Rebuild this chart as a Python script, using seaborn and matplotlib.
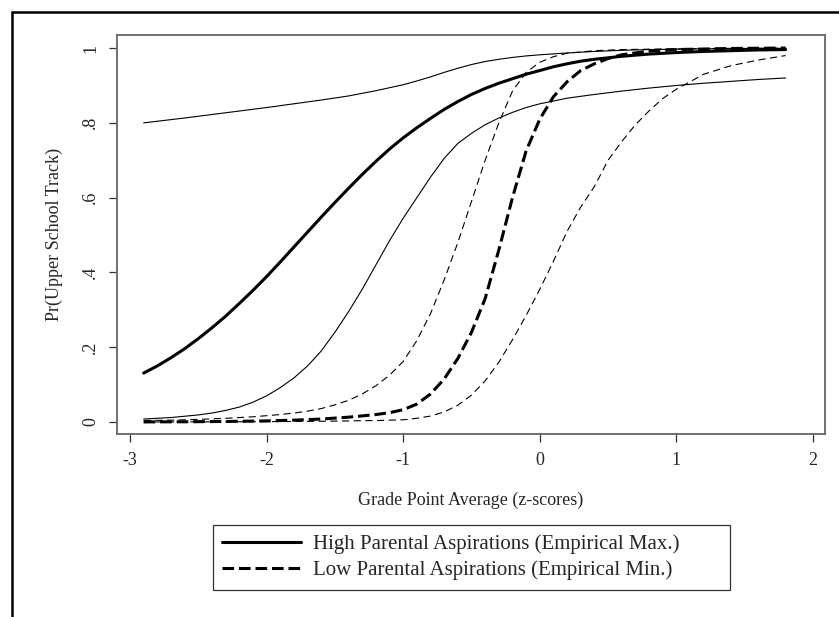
import seaborn as sns
import matplotlib.pyplot as plt
from matplotlib.lines import Line2D

### values (x = GPA z-score, y = probability)
# High parental aspirations: point estimate
high_x = [-2.9, -2.8, -2.7, -2.6, -2.5, -2.4, -2.3, -2.2, -2.1, -2.0, -1.9, -1.8, -1.7, -1.6, -1.5, -1.4, -1.3, -1.2, -1.1, -1.0,
          -0.9, -0.8, -0.7, -0.6, -0.5, -0.4, -0.3, -0.2, -0.1, 0.0, 0.1, 0.2, 0.3, 0.4, 0.6, 0.8, 1.0, 1.2, 1.4, 1.6, 1.8]
high_y = [0.131, 0.150, 0.172, 0.196, 0.223, 0.252, 0.283, 0.317, 0.352, 0.389, 0.428, 0.468, 0.508, 0.548, 0.587, 0.625, 0.662, 0.697, 0.730, 0.760,
          0.787, 0.812, 0.836, 0.857, 0.876, 0.892, 0.906, 0.918, 0.930, 0.940, 0.950, 0.958, 0.965, 0.970, 0.978, 0.984, 0.988, 0.991, 0.993, 0.995, 0.996]

# High parental aspirations: upper bound
high_hi_x = [-2.9, -2.6, -2.3, -2.0, -1.8, -1.6, -1.4, -1.2, -1.0, -0.9, -0.8, -0.7, -0.6, -0.5, -0.4, -0.3, -0.2, -0.1, 0.0,
             0.2, 0.4, 0.6, 0.8, 1.0, 1.4, 1.8]
high_hi_y = [0.800, 0.813, 0.827, 0.841, 0.851, 0.861, 0.872, 0.886, 0.902, 0.912, 0.923, 0.935, 0.946, 0.956, 0.964, 0.970, 0.975, 0.979, 0.982,
             0.987, 0.991, 0.994, 0.996, 0.997, 0.999, 0.999]

# High parental aspirations: lower bound
high_lo_x = [-2.9, -2.7, -2.5, -2.4, -2.3, -2.2, -2.1, -2.0, -1.9, -1.8, -1.7, -1.6, -1.5, -1.4, -1.3, -1.2, -1.1, -1.0,
             -0.9, -0.8, -0.7, -0.6, -0.5, -0.4, -0.3, -0.2, -0.1, 0.0, 0.2, 0.4, 0.6, 0.8, 1.0, 1.2, 1.4, 1.6, 1.8]
high_lo_y = [0.008, 0.012, 0.019, 0.024, 0.031, 0.040, 0.053, 0.070, 0.092, 0.118, 0.150, 0.190, 0.240, 0.295, 0.355, 0.420, 0.485, 0.545,
             0.600, 0.655, 0.705, 0.745, 0.772, 0.795, 0.813, 0.828, 0.841, 0.851, 0.866, 0.876, 0.885, 0.893, 0.900, 0.906, 0.911, 0.916, 0.920]

# Low parental aspirations: point estimate
low_x = [-2.9, -2.6, -2.3, -2.0, -1.8, -1.6, -1.4, -1.2, -1.1, -1.0, -0.9, -0.8, -0.7, -0.6, -0.5, -0.4, -0.3, -0.2, -0.1,
         0.0, 0.1, 0.2, 0.3, 0.4, 0.5, 0.6, 0.8, 1.0, 1.4, 1.8]
low_y = [0.0003, 0.0007, 0.0015, 0.003, 0.005, 0.008, 0.013, 0.020, 0.025, 0.033, 0.048, 0.075, 0.115, 0.170, 0.240, 0.330, 0.460, 0.600, 0.725,
         0.810, 0.870, 0.910, 0.940, 0.958, 0.972, 0.982, 0.992, 0.996, 0.999, 1.000]

# Low parental aspirations: upper bound
low_hi_x = [-2.9, -2.7, -2.5, -2.3, -2.1, -1.9, -1.8, -1.7, -1.6, -1.5, -1.4, -1.3, -1.2, -1.1, -1.0, -0.9, -0.8, -0.7, -0.6,
            -0.5, -0.4, -0.3, -0.2, -0.1, 0.0, 0.1, 0.2, 0.4, 0.6, 1.0, 1.8]
low_hi_y = [0.004, 0.005, 0.007, 0.010, 0.014, 0.020, 0.024, 0.029, 0.036, 0.046, 0.058, 0.075, 0.097, 0.125, 0.162, 0.218, 0.290, 0.380, 0.480,
            0.590, 0.700, 0.800, 0.885, 0.935, 0.962, 0.977, 0.986, 0.993, 0.996, 0.998, 1.000]

# Low parental aspirations: lower bound
low_lo_x = [-2.9, -2.3, -2.0, -1.6, -1.4, -1.2, -1.0, -0.9, -0.8, -0.7, -0.6, -0.5, -0.4, -0.3, -0.2, -0.1, 0.0,
            0.1, 0.2, 0.3, 0.4, 0.5, 0.6, 0.7, 0.8, 0.9, 1.0, 1.2, 1.4, 1.6, 1.8]
low_lo_y = [0.0002, 0.0006, 0.001, 0.002, 0.003, 0.004, 0.006, 0.010, 0.016, 0.027, 0.045, 0.072, 0.110, 0.160, 0.220, 0.285, 0.355,
            0.430, 0.510, 0.575, 0.630, 0.700, 0.750, 0.795, 0.832, 0.865, 0.890, 0.930, 0.953, 0.968, 0.980]

x_ticks = [-3, -2, -1, 0, 1, 2]
y_ticks = [0, 0.2, 0.4, 0.6, 0.8, 1]
y_ticklabels = ["0", ".2", ".4", ".6", ".8", "1"]
legend_labels = ["High Parental Aspirations (Empirical Max.)", "Low Parental Aspirations (Empirical Min.)"]

### Graph
sns.set_style("ticks")
plt.rcParams["font.family"] = ["Liberation Serif", "DejaVu Serif"]

fig = plt.figure(figsize=(8.39, 6.17), dpi=100)
ax = fig.add_axes([0.1395, 0.2966, 0.8438, 0.6467])

thin = 0.8
thick = 2.2
thin_dash = [6.5, 4]
thick_dash = [3.8, 1.6]

sns.lineplot(x=high_hi_x, y=high_hi_y, ax=ax, color="black", linewidth=thin)
sns.lineplot(x=high_lo_x, y=high_lo_y, ax=ax, color="black", linewidth=thin)
sns.lineplot(x=low_hi_x, y=low_hi_y, ax=ax, color="black", linewidth=thin)
ax.lines[-1].set_dashes(thin_dash)
sns.lineplot(x=low_lo_x, y=low_lo_y, ax=ax, color="black", linewidth=thin)
ax.lines[-1].set_dashes(thin_dash)
sns.lineplot(x=high_x, y=high_y, ax=ax, color="black", linewidth=thick)
sns.lineplot(x=low_x, y=low_y, ax=ax, color="black", linewidth=thick)
ax.lines[-1].set_dashes(thick_dash)

ax.set_xlim(-3.095, 2.088)
ax.set_ylim(-0.032, 1.035)
ax.set_xticks(x_ticks)
ax.set_xticklabels([str(t) for t in x_ticks])
ax.set_yticks(y_ticks)
ax.set_yticklabels(y_ticklabels, rotation=90, va="center")
ax.tick_params(axis="both", direction="out", length=6, width=0.9, color="#333333",
               labelsize=13, pad=7)

for s in ax.spines.values():
    s.set_visible(True)
    s.set_color("#666666")
    s.set_linewidth(1.3)

ax.set_xlabel("Grade Point Average (z-scores)", fontsize=13, labelpad=16)
ax.set_ylabel("Pr(Upper School Track)", fontsize=13, labelpad=14)

handles = [
    Line2D([], [], color="black", linewidth=thick),
    Line2D([], [], color="black", linewidth=thick, dashes=thick_dash),
]
leg = ax.legend(handles, legend_labels, loc="upper left", mode="expand",
                bbox_to_anchor=(0.1356, -0.228, 0.730, 0.0),
                fontsize=15, frameon=True, fancybox=False, edgecolor="black",
                handlelength=3.75, handletextpad=0.6, borderpad=0.45, labelspacing=0.32,
                borderaxespad=0.0)
leg.get_frame().set_linewidth(0.9)

# outer border on top and left (as in the source image)
fig.add_artist(Line2D([12 / 839, 1.0], [1 - 12 / 617, 1 - 12 / 617], color="black", linewidth=1.8))
fig.add_artist(Line2D([12 / 839, 12 / 839], [0.0, 1 - 12 / 617], color="black", linewidth=1.8))

fig.savefig("out.png", dpi=100)
